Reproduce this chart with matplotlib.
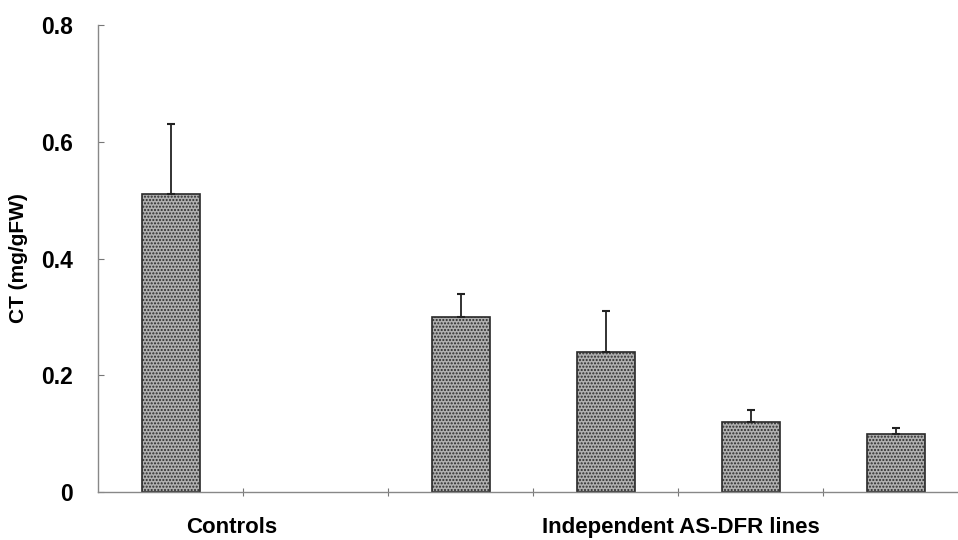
import matplotlib
matplotlib.use("Agg")
import matplotlib.pyplot as plt
import numpy as np

plt.rcParams['font.family'] = ['Liberation Sans', 'DejaVu Sans']
plt.rcParams['hatch.linewidth'] = 1.0
plt.rcParams['hatch.color'] = '#6a6a6a'

# CT content per line; slot 1 is an empty spacer between the groups
slots = [0, 1, 2, 3, 4, 5]
ct_values = [0.51, None, 0.30, 0.24, 0.12, 0.10]
ct_errors = [0.12, None, 0.04, 0.07, 0.02, 0.01]
yticks = [0, 0.2, 0.4, 0.6, 0.8]
ytick_labels = ['0', '0.2', '0.4', '0.6', '0.8']
group_labels = ['Controls', 'Independent AS-DFR lines']
group_label_x = [0.42, 3.52]

fig = plt.figure(figsize=(9.58, 5.40), dpi=100)
ax = fig.add_axes([98/958, 1-492/540, 860/958, (492-25)/540])

xs = [s for s, v in zip(slots, ct_values) if v is not None]
vals = [v for v in ct_values if v is not None]
errs = [e for e in ct_errors if e is not None]

ax.bar(xs, vals, width=0.4, color='#b0b0b0', edgecolor='#2a2a2a',
       linewidth=1.2, hatch='.....', zorder=2)
ax.errorbar(xs, vals, yerr=[np.zeros(len(errs)), errs], fmt='none',
            ecolor='#222222', elinewidth=1.3, capsize=3, capthick=1.5, zorder=3)

ax.set_xlim(-0.5, -0.5 + 860/145)
ax.set_ylim(0, 0.8)
ax.set_yticks(yticks)
ax.set_yticklabels(ytick_labels, fontsize=16.5, fontweight='bold')
ax.set_xticks([0.5, 1.5, 2.5, 3.5, 4.5])
ax.set_xticklabels([])
ax.tick_params(axis='y', direction='in', length=4, width=0.8, color='#777777', pad=18)
ax.tick_params(axis='x', direction='inout', length=6, width=0.8, color='#777777')

for side in ('top', 'right'):
    ax.spines[side].set_visible(False)
for side in ('left', 'bottom'):
    ax.spines[side].set_color('#888888')
    ax.spines[side].set_linewidth(1.0)

for lbl, x in zip(group_labels, group_label_x):
    ax.text(x, -0.075, lbl, transform=ax.get_xaxis_transform(), ha='center',
            va='center', fontsize=16, fontweight='bold')

fig.text(19/958, 1-258/540, 'CT (mg/gFW)', rotation=90, ha='center',
         va='center', fontsize=15, fontweight='bold')

fig.savefig('out.png', dpi=100)
